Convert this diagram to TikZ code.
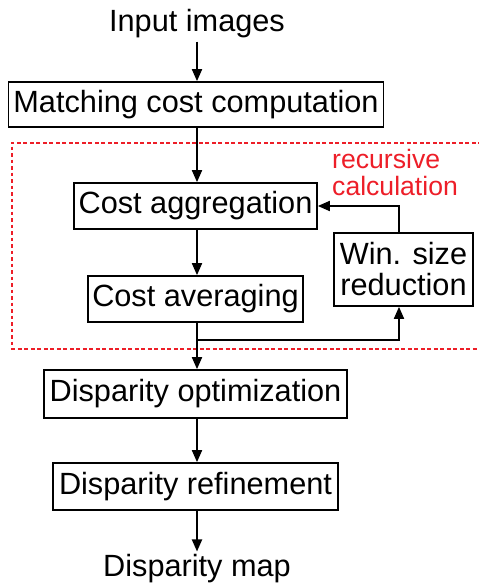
\documentclass[tikz,border=0pt]{standalone}
\usepackage{fontspec}
\setmainfont{Liberation Sans}
\usetikzlibrary{arrows.meta}
\definecolor{loopred}{RGB}{237,30,40}
\begin{document}
\begin{tikzpicture}[x=1pt,y=-1pt,
  stage/.style={draw, line width=1.7pt, inner sep=0pt, align=center,
    font=\fontsize{30.7}{31}\selectfont},
  label/.style={inner sep=3pt, font=\fontsize{30.7}{31}\selectfont},
  flow/.style={line width=1.8pt, -{Triangle[width=10pt,length=12pt]}},
  loopframe/.style={draw=loopred, line width=2pt, dash pattern=on 3.7pt off 2.8pt},
]
\useasboundingbox (0,0) rectangle (479,587);
\clip (0,0) rectangle (479,587);

% processing stages
\node[label] (in) at (197,24) {Input images};
\node[stage, minimum width=375pt, minimum height=45pt] (match) at (196,104.5) {Matching cost computation};
\node[stage, minimum width=243pt, minimum height=46pt] (agg) at (195.5,206) {Cost aggregation};
\node[stage, minimum width=215pt, minimum height=46pt] (avg) at (195.5,299) {Cost averaging};
\node[stage, minimum width=139pt, minimum height=73pt] (win) at (403.5,269.5) {Win. size\\reduction};
\node[stage, minimum width=303pt, minimum height=48pt] (opt) at (195.5,394) {Disparity optimization};
\node[stage, minimum width=285pt, minimum height=47pt] (ref) at (195.5,486.5) {Disparity refinement};
\node[label] (out) at (197,569) {Disparity map};

% recursive loop frame and its label
\draw[loopframe] (495,142.5) -- (11.7,142.5) -- (11.7,348.5) -- (495,348.5);
\node[text=loopred, font=\fontsize{26.6}{27}\selectfont, align=left,
  anchor=north west, inner sep=0pt] (rec) at (332,149) {recursive\\calculation};

% connectors
\coordinate (spine) at (197,0);
\coordinate (fb) at (399,0);
\coordinate (split) at (197,340);
\draw[flow] (in.south -| spine) -- (match.north -| spine);
\draw[flow] (match.south -| spine) -- (agg.north -| spine);
\draw[flow] (agg.south -| spine) -- (avg.north -| spine);
\draw[flow] (avg.south -| spine) -- (opt.north -| spine);
\draw[flow] (split) -| (win.south -| fb);
\draw[flow] (win.north -| fb) |- (agg.east);
\draw[flow] (opt.south -| spine) -- (ref.north -| spine);
\draw[flow] (ref.south -| spine) -- (out.north -| spine);
\end{tikzpicture}
\end{document}
